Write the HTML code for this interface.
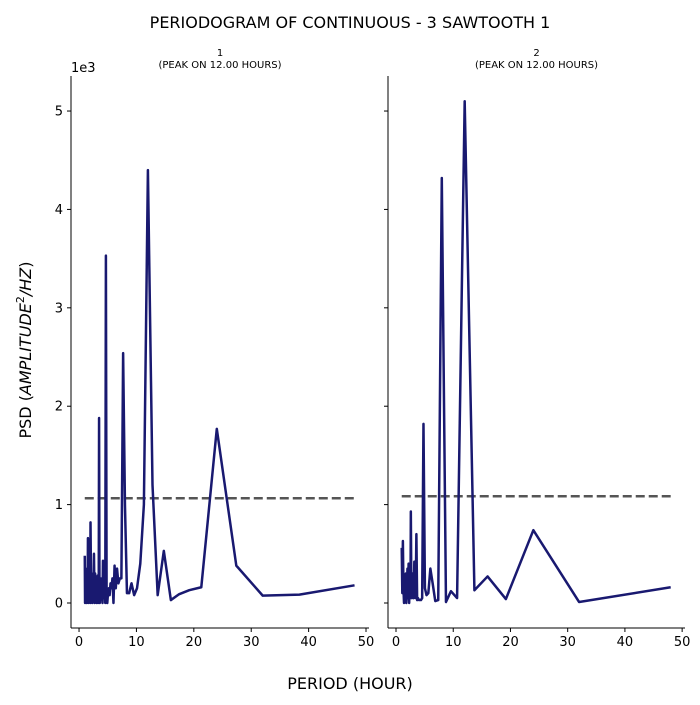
<!DOCTYPE html>
<html><head><meta charset="utf-8"><style>
body{margin:0;background:#fff;}
svg{font-family:"DejaVu Sans","Liberation Sans",sans-serif;}
</style></head><body>
<svg id="c" width="700" height="700" xmlns="http://www.w3.org/2000/svg">
<text x="350" y="28" text-anchor="middle" font-size="16">PERIODOGRAM OF CONTINUOUS - 3 SAWTOOTH 1</text>
<text x="350" y="689" text-anchor="middle" font-size="16">PERIOD (HOUR)</text>
<text transform="translate(31,350) rotate(-90)" text-anchor="middle" font-size="16">PSD (<tspan font-style="italic">AMPLITUDE</tspan><tspan font-size="11" dy="-7">2</tspan><tspan dy="7" font-style="italic">/HZ</tspan>)</text>
<text x="71" y="72" font-size="13">1e3</text>
</svg>
<script>
const leftPeriods=[48,38.4,32,27.4,24,21.3,19.2,17.45,16,14.77,13.7,12.8,12,11.3,10.67,10.1,9.6,9.14,8.73,8.35,8,7.68,7.38,7.11,6.86,6.62,6.4,6.19,6,5.82,5.65,5.49,5.33,5.19,5.05,4.92,4.8,4.68,4.57,4.47,4.36,4.27,4.17,4.09,4.0,3.92,3.84,3.76,3.69,3.62,3.56,3.49,3.43,3.37,3.31,3.25,3.2,3.15,3.1,3.05,3.0,2.9,2.8,2.7,2.6,2.5,2.4,2.3,2.2,2.1,2.0,1.95,1.9,1.8,1.7,1.6,1.55,1.5,1.4,1.3,1.2,1.1,1.05,1.0];
const leftValues=[180,85,75,380,1770,160,130,90,30,530,80,1200,4400,1000,400,150,80,200,100,100,1000,2540,250,250,200,350,150,380,0,250,150,200,80,150,100,0,100,3530,0,150,50,150,430,0,150,200,50,250,100,0,150,1880,50,200,0,280,100,50,200,0,150,50,300,0,500,50,250,0,300,100,820,0,400,100,300,0,660,50,350,0,200,100,0,480];
const rightPeriods=[48,32,24,19.2,16,13.7,12,10.67,9.6,8.73,8,7.38,6.86,6.4,6,5.65,5.33,5.05,4.8,4.57,4.36,4.17,4,3.84,3.69,3.56,3.43,3.31,3.2,3.1,3,2.9,2.82,2.74,2.67,2.59,2.53,2.4,2.3,2.2,2.1,2.0,1.9,1.8,1.7,1.6,1.5,1.4,1.3,1.2,1.1,1.0];
const rightValues=[160,10,740,40,270,130,5100,50,120,10,4320,30,20,200,350,100,80,150,1820,50,30,30,30,50,30,700,50,200,420,50,50,300,150,50,200,930,50,300,0,400,50,350,100,0,300,50,200,0,150,630,100,560];
const yTicks=[0,1,2,3,4,5];
const xTicks=[0,10,20,30,40,50];
const panelTitles=["1","2"];
const thresholds=[1065,1085];

const NS="http://www.w3.org/2000/svg";
const svg=document.getElementById('c');
function mk(t,a){const e=document.createElementNS(NS,t);for(const k in a)e.setAttribute(k,a[k]);svg.appendChild(e);return e;}
const panels=[
 {x0:71,x1:369,xmin:-1.4,xmax:50.52,P:leftPeriods,V:leftValues,labels:true},
 {x0:388,x1:685,xmin:-1.4,xmax:50.5,P:rightPeriods,V:rightValues,labels:false}];
const yT=76,yB=628,vmin=-254,vmax=5356;
panels.forEach((p,i)=>{
 const sx=v=>p.x0+(v-p.xmin)/(p.xmax-p.xmin)*(p.x1-p.x0);
 const sy=v=>yB-(v-vmin)/(vmax-vmin)*(yB-yT);
 let ax=mk('line',{x1:p.x0,y1:yT,x2:p.x0,y2:yB,stroke:'#000','stroke-width':1});
 
 
 let bx=mk('line',{x1:p.x0,y1:yB,x2:p.x1,y2:yB,stroke:'#000','stroke-width':1});
 
 
 yTicks.forEach(t=>{
  const y=sy(t*1000);
  mk('line',{x1:p.x0-4,y1:y,x2:p.x0,y2:y,stroke:'#000'});
  if(p.labels){const tx=mk('text',{x:p.x0-8,y:y+4.5,'text-anchor':'end','font-size':13});tx.textContent=t;
   
   }
 });
 xTicks.forEach(t=>{
  const x=sx(t);
  mk('line',{x1:x,y1:yB,x2:x,y2:yB+4,stroke:'#000'});
  const tx=mk('text',{x:x,y:yB+18,'text-anchor':'middle','font-size':13});tx.textContent=t;
  
  
 });
 const cx=(p.x0+p.x1)/2;
 const t1=mk('text',{x:cx,y:56,'text-anchor':'middle','font-size':10});t1.textContent=panelTitles[i];
 
 
 const t2=mk('text',{x:cx,y:68,'text-anchor':'middle','font-size':10});t2.textContent='(PEAK ON 12.00 HOURS)';
 
 
 const pmin=Math.min(...p.P),pmax=Math.max(...p.P);
 const dl=mk('line',{x1:sx(pmin),y1:sy(thresholds[i]),x2:sx(pmax),y2:sy(thresholds[i]),stroke:'#555','stroke-width':2.5,'stroke-dasharray':'9,4'});
 
 
 const pts=p.P.map((v,k)=>sx(v).toFixed(2)+','+sy(p.V[k]).toFixed(2)).join(' ');
 const pl=mk('polyline',{points:pts,fill:'none',stroke:'#191970','stroke-width':2.5,'stroke-linejoin':'round'});
 
 
});
</script>
</body></html>
